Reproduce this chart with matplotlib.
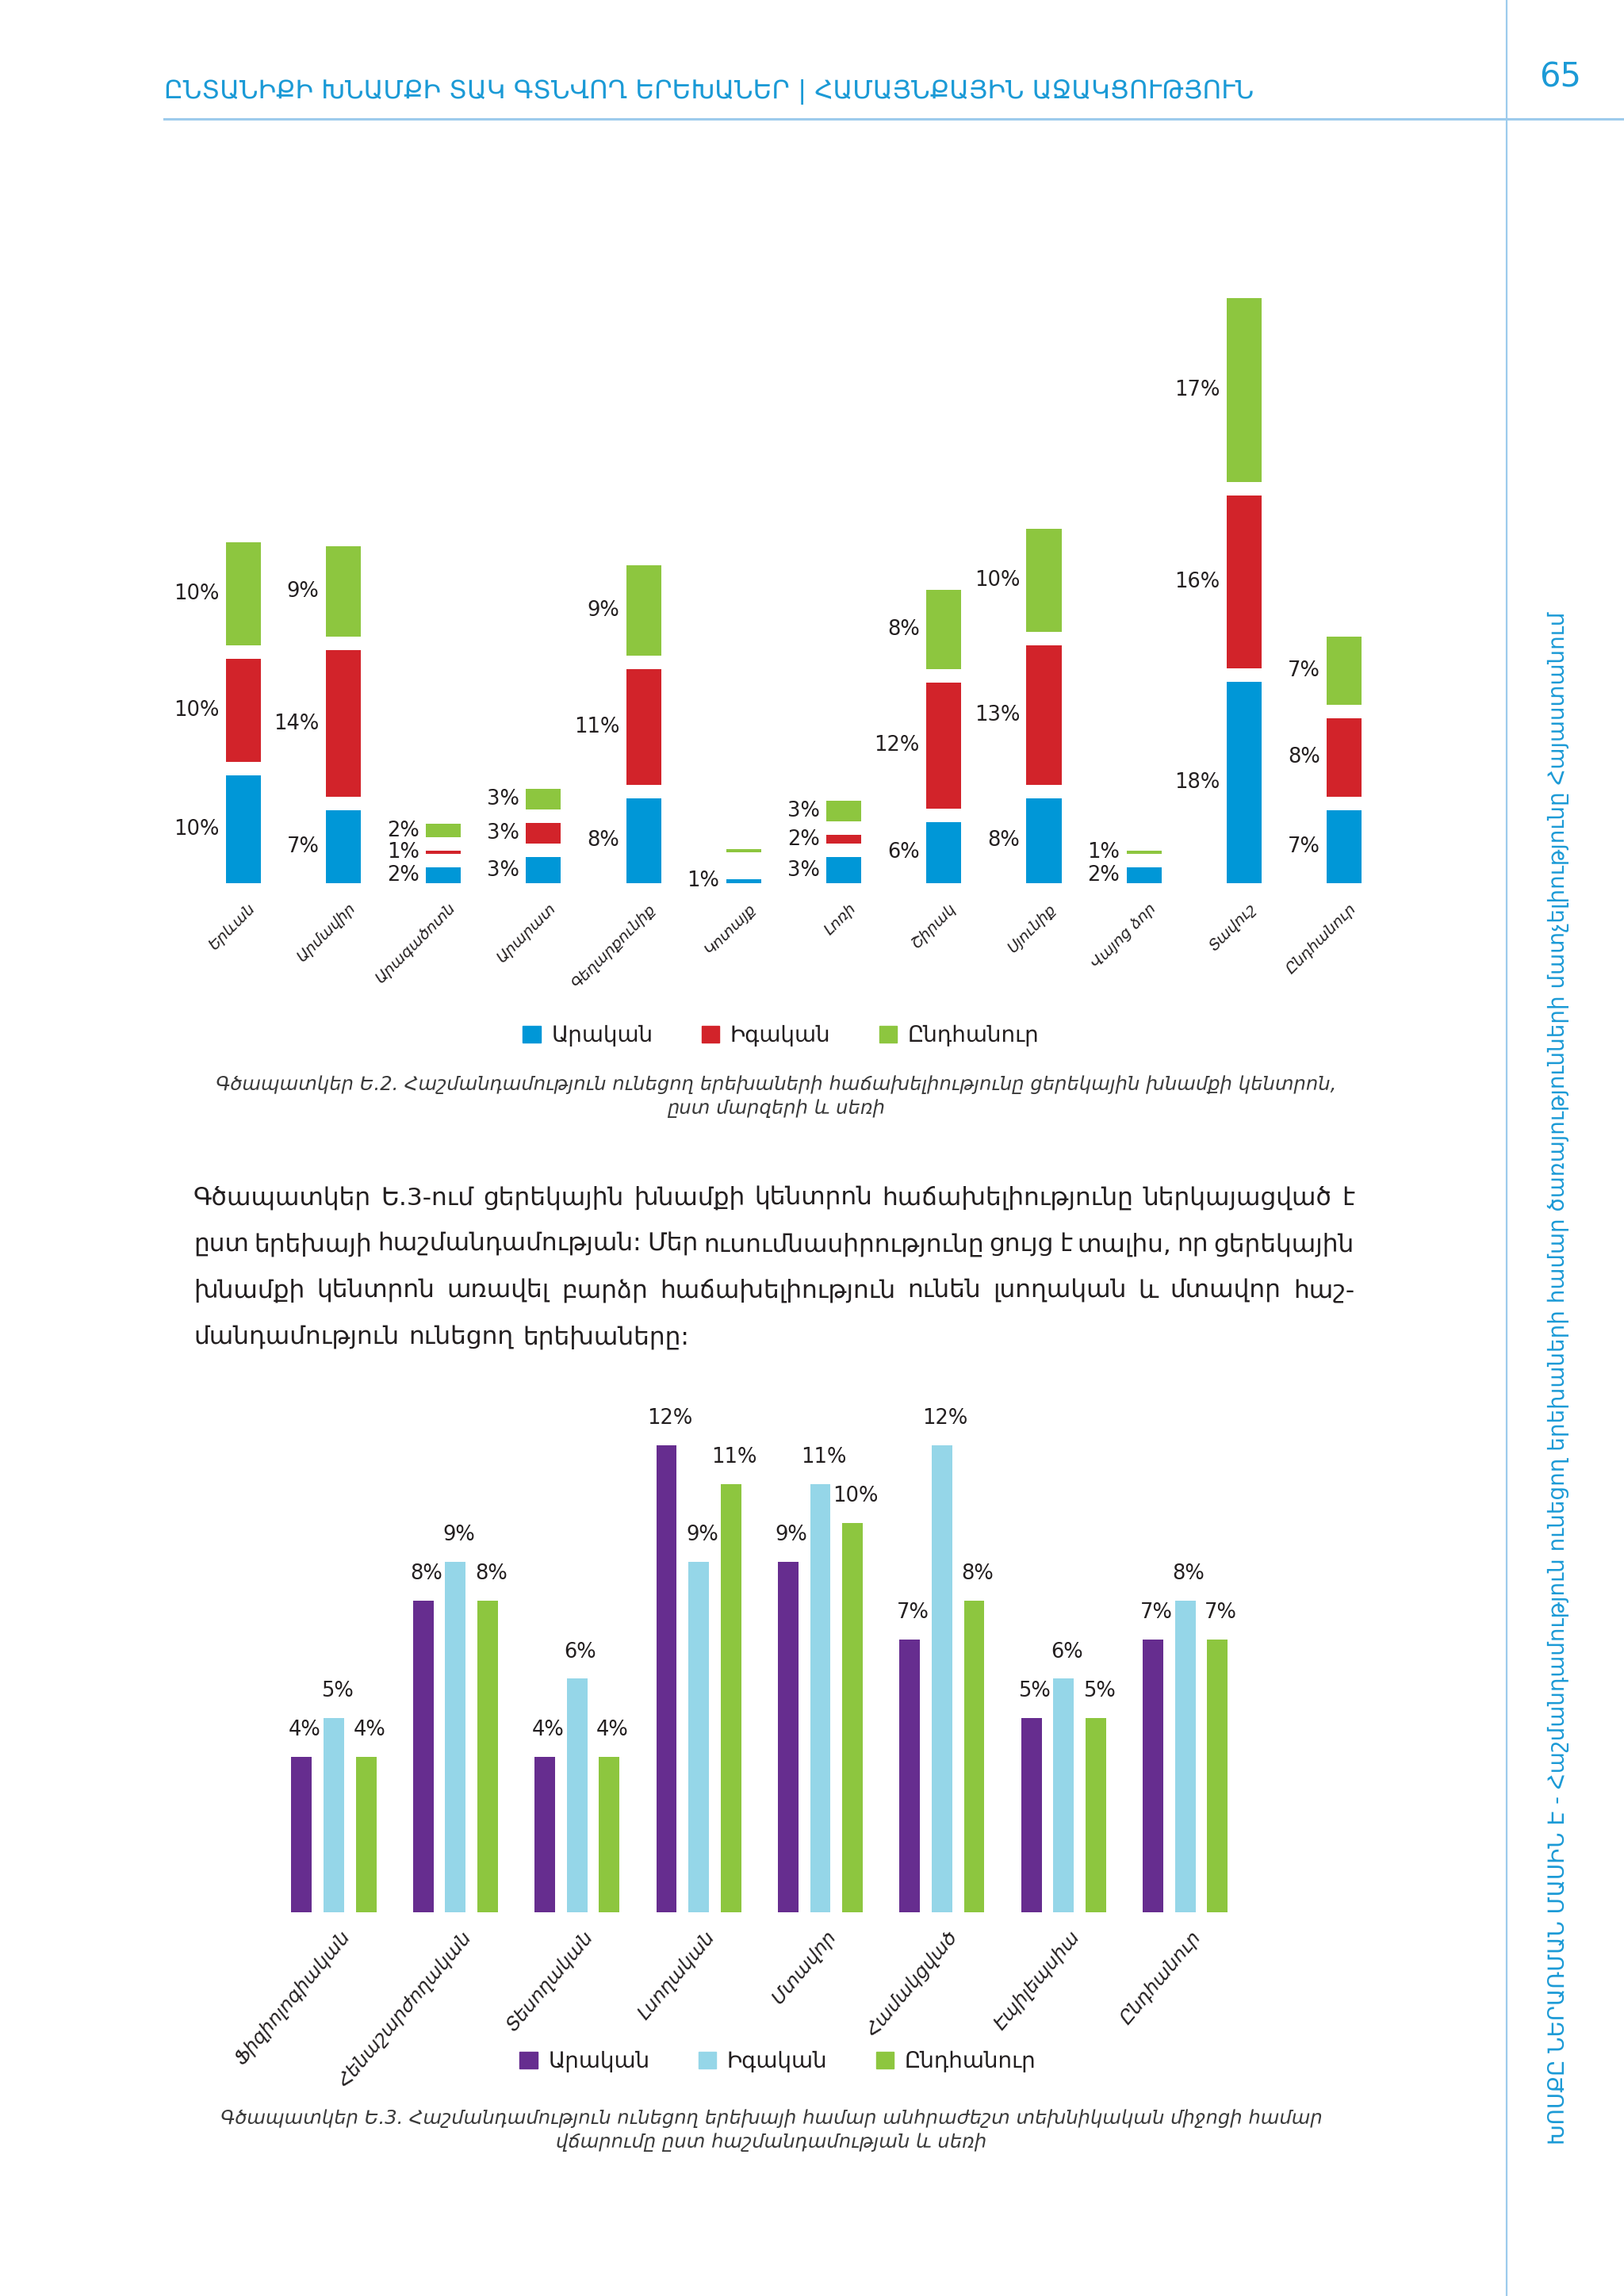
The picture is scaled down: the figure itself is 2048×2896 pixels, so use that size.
import numpy as np
import matplotlib
matplotlib.use('Agg')
import matplotlib.pyplot as plt
from matplotlib.lines import Line2D
from matplotlib.patches import Patch
from matplotlib.transforms import ScaledTranslation

plt.rcParams['font.family'] = ['DejaVu Sans']

W, H = 2048, 2896

# figure E.2 - day care attendance by marz and sex (segment heights, labels as printed)
regions = ['Երևան', 'Արմավիր', 'Արագածոտն', 'Արարատ', 'Գեղարքունիք', 'Կոտայք',
           'Լոռի', 'Շիրակ', 'Սյունիք', 'Վայոց ձոր', 'Տավուշ', 'Ընդհանուր']
boy_vals = [10.4, 7.0, 1.5, 2.5, 8.2, 0.4, 2.5, 5.9, 8.2, 1.5, 19.4, 7.0]
girl_vals = [9.9, 14.1, 0.3, 2.0, 11.1, 0.0, 0.85, 12.1, 13.4, np.nan, 16.6, 7.6]
all_vals = [9.9, 8.7, 1.3, 2.0, 8.7, 0.3, 2.0, 7.6, 9.9, 0.3, 17.7, 6.5]
boy_lbl = [10, 7, 2, 3, 8, 1, 3, 6, 8, 2, 18, 7]
girl_lbl = [10, 14, 1, 3, 11, None, 2, 12, 13, None, 16, 8]
all_lbl = [10, 9, 2, 3, 9, None, 3, 8, 10, 1, 17, 7]

# figure E.3 - payment for technical aids by disability type and sex
disab_types = ['Ֆիզիոլոգիական', 'Հենաշարժողական', 'Տեսողական', 'Լսողական',
               'Մտավոր', 'Համակցված', 'Էպիլեպսիա', 'Ընդհանուր']
boys_pay = [4, 8, 4, 12, 9, 7, 5, 7]
girls_pay = [5, 9, 6, 9, 11, 12, 6, 8]
all_pay = [4, 8, 4, 11, 10, 8, 5, 7]

sex_names = ['Արական', 'Իգական', 'Ընդհանուր']

header = 'ԸՆՏԱՆԻՔԻ ԽՆԱՄՔԻ ՏԱԿ ԳՏՆՎՈՂ ԵՐԵԽԱՆԵՐ | ՀԱՄԱՅՆՔԱՅԻՆ ԱՋԱԿՑՈՒԹՅՈՒՆ'
side_text = ('ԽՈՍՔԸ ՆԵՐԱՌՄԱՆ ՄԱՍԻՆ Է - Հաշմանդամություն ունեցող երեխաների համար '
             'ծառայությունների մատչելիությունը Հայաստանում')
caption1 = ['Գծապատկեր Ե.2. Հաշմանդամություն ունեցող երեխաների հաճախելիությունը ցերեկային խնամքի կենտրոն,',
            'ըստ մարզերի և սեռի']
caption2 = ['Գծապատկեր Ե.3. Հաշմանդամություն ունեցող երեխայի համար անհրաժեշտ տեխնիկական միջոցի համար',
            'վճարումը ըստ հաշմանդամության և սեռի']
body = ['Գծապատկեր Ե.3-ում ցերեկային խնամքի կենտրոն հաճախելիությունը ներկայացված է',
        'ըստ երեխայի հաշմանդամության: Մեր ուսումնասիրությունը ցույց է տալիս, որ ցերեկային',
        'խնամքի կենտրոն առավել բարձր հաճախելիություն ունեն լսողական և մտավոր հաշ-',
        'մանդամություն ունեցող երեխաները:']

BLUE = '#0097d7'
RED = '#d2232a'
GREEN = '#8dc63f'
PURPLE = '#662d8f'
SKY = '#95d6e8'
ACCENT = '#1b9ad6'
RULE = '#9dcbec'
INK = '#231f20'

fig = plt.figure(figsize=(W / 100, H / 100), dpi=100)


def px_axes(left, top, right, bottom):
    ax = fig.add_axes([left / W, 1 - bottom / H, (right - left) / W, (bottom - top) / H])
    for s in ax.spines.values():
        s.set_visible(False)
    ax.set_yticks([])
    ax.tick_params(axis='x', length=0)
    ax.patch.set_alpha(0)
    return ax


def fy(y):
    return 1 - y / H


# page furniture
fig.add_artist(Line2D([207 / W, 1], [fy(150), fy(150)], color=RULE, lw=2.2))
fig.add_artist(Line2D([1900 / W, 1900 / W], [0, 1], color=RULE, lw=1.6))
fig.text(207 / W, fy(116), header, fontsize=23.3, color=ACCENT, va='center', ha='left')
fig.text(1968 / W, fy(98), '65', fontsize=30, color=ACCENT, va='center', ha='center')
fig.text(1965 / W, fy(1738), side_text, fontsize=20, color=ACCENT, rotation=90,
         va='center', ha='center')

# ---- figure E.2 : split stacked columns
ax1 = px_axes(200, 350, 1800, 1114)
x = np.arange(len(regions))
bw = 0.35
gap = 1.3
boy = np.array(boy_vals)
girl = np.array(girl_vals, dtype=float)
tot = np.array(all_vals)
girl_bottom = boy + gap
green_bottom = np.where(np.isnan(girl), boy + gap, girl_bottom + np.nan_to_num(girl) + gap)

ax1.bar(x, boy, bw, color=BLUE)
ax1.bar(x, np.nan_to_num(girl), bw, bottom=girl_bottom, color=RED)
ax1.bar(x, tot, bw, bottom=green_bottom, color=GREEN)

for i in range(len(regions)):
    segs = [(boy_lbl[i], 0, boy[i]), (girl_lbl[i], girl_bottom[i], girl[i]),
            (all_lbl[i], green_bottom[i], tot[i])]
    for lbl, b, h in segs:
        if lbl is None:
            continue
        ax1.annotate(f'{lbl}%', (x[i] - bw / 2, b + h / 2), xytext=(-6, 0),
                     textcoords='offset points', ha='right', va='center',
                     fontsize=18.5, color=INK)

ax1.set_xlim(-0.845, 11.83)
ax1.set_ylim(0, 58.3)
ax1.set_xticks(x)
ax1.set_xticklabels(regions, rotation=45, ha='right', rotation_mode='anchor',
                    fontstyle='italic', fontsize=14, color=INK)
ax1.tick_params(axis='x', pad=16)
for t in ax1.get_xticklabels():
    t.set_transform(t.get_transform() + ScaledTranslation(4 / 72, 0, fig.dpi_scale_trans))

h1 = [Patch(color=c) for c in (BLUE, RED, GREEN)]
fig.legend(h1, sex_names, loc='center', bbox_to_anchor=(985 / W, fy(1306)), ncol=3,
           frameon=False, fontsize=20, handlelength=0.8, handleheight=0.8,
           handletextpad=0.5, columnspacing=2.2, labelcolor=INK)

for k, line in enumerate(caption1):
    fig.text(979 / W, fy(1368 + 30 * k), line, ha='center', va='center',
             fontstyle='italic', fontsize=17.5, color='#3a3a3a')

# ---- body paragraph, justified
renderer = fig.canvas.get_renderer()
x0, x1 = 244, 1708
for k, line in enumerate(body):
    words = line.split(' ')
    texts = [fig.text(0, fy(1511 + 58.5 * k), w, fontsize=22.5, color=INK, va='center')
             for w in words]
    widths = [t.get_window_extent(renderer).width for t in texts]
    if k < len(body) - 1:
        space = (x1 - x0 - sum(widths)) / (len(words) - 1)
    else:
        space = 12
    pos = x0
    for t, w in zip(texts, widths):
        t.set_x(pos / W)
        pos += w + space

# ---- figure E.3 : grouped columns
ax2 = px_axes(280, 1760, 1720, 2412)
xg = np.arange(len(disab_types))
off = 0.265
bw2 = 0.169
series = [(boys_pay, PURPLE, -off), (girls_pay, SKY, 0), (all_pay, GREEN, off)]
for vals, col, dx in series:
    ax2.bar(xg + dx, vals, bw2, color=col)
    for xi, v in zip(xg + dx, vals):
        ax2.annotate(f'{v}%', (xi, v), xytext=(3, 15), textcoords='offset points',
                     ha='center', va='bottom', fontsize=18.5, color=INK)

ax2.set_xlim(-0.92, 8.47)
ax2.set_ylim(0, 13.28)
ax2.set_xticks(xg)
ax2.set_xticklabels(disab_types, rotation=50, ha='right', rotation_mode='anchor',
                    fontstyle='italic', fontsize=17.5, color=INK)
ax2.tick_params(axis='x', pad=14)
for t in ax2.get_xticklabels():
    t.set_transform(t.get_transform() + ScaledTranslation(5 / 72, 0, fig.dpi_scale_trans))

h2 = [Patch(color=c) for c in (PURPLE, SKY, GREEN)]
fig.legend(h2, sex_names, loc='center', bbox_to_anchor=(981 / W, fy(2600)), ncol=3,
           frameon=False, fontsize=20, handlelength=0.8, handleheight=0.8,
           handletextpad=0.5, columnspacing=2.2, labelcolor=INK)

for k, line in enumerate(caption2):
    fig.text(973 / W, fy(2672 + 30 * k), line, ha='center', va='center',
             fontstyle='italic', fontsize=17.5, color='#3a3a3a')

fig.savefig('out.png', dpi=100, facecolor='white')
